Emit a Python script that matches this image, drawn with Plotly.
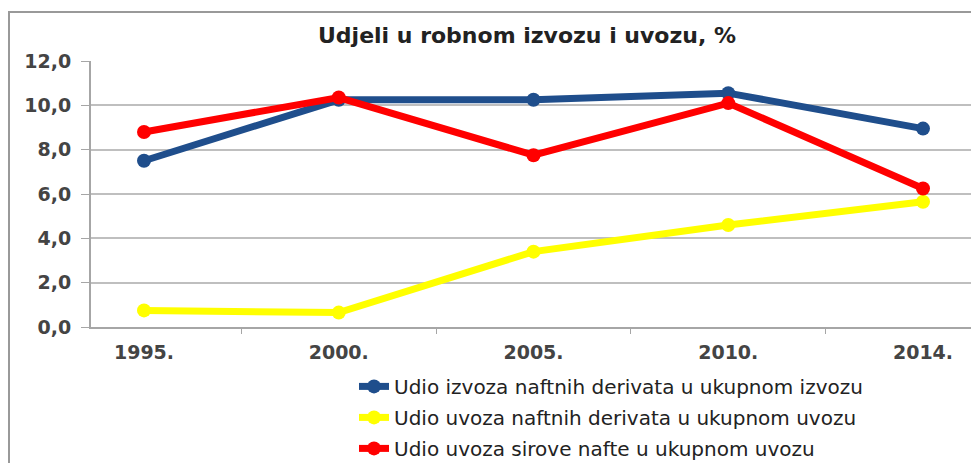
import plotly.graph_objects as go

years = ["1995.", "2000.", "2005.", "2010.", "2014."]
izvoz_derivata = [7.5, 10.25, 10.25, 10.55, 8.95]
uvoz_derivata = [0.75, 0.65, 3.4, 4.6, 5.65]
uvoz_sirove = [8.8, 10.35, 7.75, 10.1, 6.25]
y_ticks = [0, 2, 4, 6, 8, 10, 12]
y_tick_labels = ["0,0", "2,0", "4,0", "6,0", "8,0", "10,0", "12,0"]

names = [
    "Udio izvoza naftnih derivata u ukupnom izvozu",
    "Udio uvoza naftnih derivata u ukupnom uvozu",
    "Udio uvoza sirove nafte u ukupnom uvozu",
]
series = [izvoz_derivata, uvoz_derivata, uvoz_sirove]
colors = ["#1f4e8c", "#ffff00", "#ff0000"]

FONT = "DejaVu Sans, sans-serif"
# page body has an 8px margin; figure sized so it ends at the window edge
W, H = 971, 455
ML, MR, MT = 83, 3, 53
MB = H - (327 - 8)
PW, PH = W - ML - MR, H - MT - MB

fig = go.Figure()
for i, (nm, vals, c) in enumerate(zip(names, series, colors)):
    fig.add_trace(go.Scatter(
        x=years, y=vals, name=nm, mode="lines+markers",
        line=dict(color=c, width=7),
        marker=dict(color=c, size=14),
        legendgroup=f"g{i}",
    ))

fig.update_layout(
    width=W, height=H,
    paper_bgcolor="white", plot_bgcolor="white",
    margin=dict(l=ML, r=MR, t=MT, b=MB, autoexpand=False),
    title=dict(text="<b>Udjeli u robnom izvozu i uvozu, %</b>", xref="container",
               x=(527 - 8) / W, xanchor="center",
               y=1 - 27 / H, yanchor="middle",
               font=dict(family=FONT, size=22, color="#222222")),
    font=dict(family=FONT),
    legend=dict(x=(402 - 8 - 48 - ML) / PW, xanchor="left", y=-0.15, yanchor="top",
                font=dict(size=20, color="#222222"),
                traceorder="grouped", tracegroupgap=2,
                bgcolor="rgba(0,0,0,0)"),
    showlegend=True,
)
fig.update_xaxes(
    type="category", showgrid=False, showline=True, linecolor="#a6a6a6", linewidth=2,
    ticks="outside", tickson="boundaries", ticklen=5, tickcolor="#a6a6a6",
    ticklabelstandoff=7, automargin=False,
    tickfont=dict(size=19, color="#444444", family=FONT, weight="bold"),
)
fig.update_yaxes(
    range=[0, 12], tickvals=y_ticks, ticktext=y_tick_labels,
    showgrid=True, gridcolor="#bfbfbf", gridwidth=2,
    showline=True, linecolor="#a6a6a6", linewidth=2, automargin=False,
    ticks="outside", ticklen=8, tickcolor="#a6a6a6", zeroline=False,
    ticklabelstandoff=6,
    tickfont=dict(size=19, color="#444444", family=FONT, weight="bold"),
)
fig.add_shape(type="rect", xref="paper", yref="paper",
              x0=(1 - ML) / PW, x1=1 + 2 / PW, y0=-(MB + 10) / PH, y1=1 + (MT - 4) / PH,
              line=dict(color="#999999", width=2), fillcolor="rgba(0,0,0,0)")

fig.write_html("out.html")
